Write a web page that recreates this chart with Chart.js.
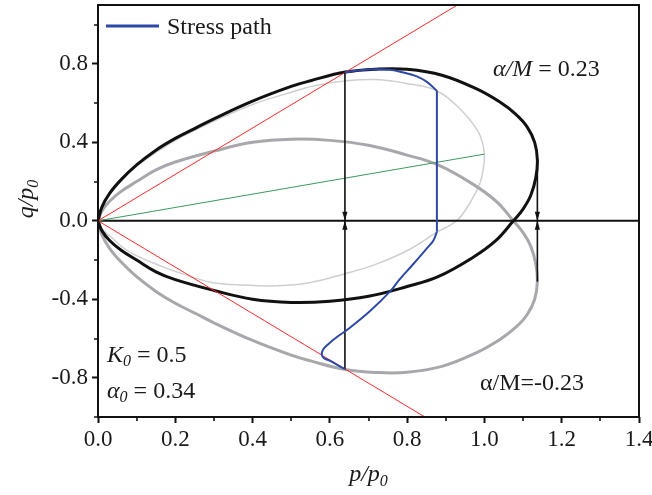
<!DOCTYPE html>
<html>
<head>
<meta charset="utf-8">
<title>Stress path</title>
<script src="https://cdn.jsdelivr.net/npm/chart.js@4.4.1/dist/chart.umd.min.js"></script>
<style>
  html, body { margin: 0; padding: 0; background: #fff; }
  #wrap { width: 652px; height: 495px; }
</style>
</head>
<body>
<div id="wrap"><canvas id="yieldChart" width="652" height="495"></canvas></div>
<script>
// ==== Axis ticks ====
const xTicks = [0, 0.2, 0.4, 0.6, 0.8, 1.0, 1.2, 1.4];
const yTicks = [-0.8, -0.4, 0, 0.4, 0.8];
const xMinorTicks = [0.1, 0.3, 0.5, 0.7, 0.9, 1.1, 1.3];
const yMinorTicks = [-1.0, -0.6, -0.2, 0.2, 0.6, 1.0];

// ==== Yield surfaces (p/p0, q/p0) ====
// current surface, alpha/M = 0.23
const currentP = [0, 0.01, 0.03, 0.06, 0.1, 0.15, 0.2, 0.25, 0.3, 0.4, 0.5, 0.55, 0.64, 0.72, 0.8, 0.89, 0.98, 1.04, 1.08, 1.11, 1.13, 1.137,
                  1.133, 1.12, 1.1, 1.075, 1.03, 0.97, 0.88, 0.8, 0.7, 0.6, 0.5, 0.4, 0.3, 0.2, 0.15, 0.1, 0.06, 0.03, 0.01, 0];
const currentQ = [0, 0.07, 0.14, 0.21, 0.285, 0.36, 0.42, 0.47, 0.52, 0.61, 0.685, 0.714, 0.758, 0.773, 0.772, 0.742, 0.672, 0.605, 0.545, 0.48, 0.4, 0.31,
                  0.22, 0.13, 0.06, 0, -0.1, -0.187, -0.285, -0.335, -0.385, -0.41, -0.416, -0.4, -0.355, -0.3, -0.26, -0.2, -0.15, -0.1, -0.05, 0];

// extension surface, alpha/M = -0.23
const mirrorP = [0, 0.01, 0.03, 0.06, 0.1, 0.15, 0.2, 0.25, 0.3, 0.4, 0.5, 0.55, 0.64, 0.72, 0.8, 0.89, 0.98, 1.04, 1.08, 1.11, 1.13, 1.137,
                 1.133, 1.12, 1.1, 1.075, 1.03, 0.97, 0.88, 0.8, 0.7, 0.6, 0.5, 0.4, 0.3, 0.2, 0.15, 0.1, 0.06, 0.03, 0.01, 0];
const mirrorQ = [0, -0.07, -0.14, -0.21, -0.285, -0.36, -0.42, -0.47, -0.52, -0.61, -0.685, -0.714, -0.758, -0.773, -0.772, -0.742, -0.672, -0.605, -0.545, -0.48, -0.4, -0.31,
                 -0.22, -0.13, -0.06, 0, 0.1, 0.187, 0.285, 0.335, 0.385, 0.41, 0.416, 0.4, 0.355, 0.3, 0.26, 0.2, 0.15, 0.1, 0.05, 0];

// initial surface, alpha0 = 0.34
const initialP = [0, 0.01, 0.03, 0.06, 0.1, 0.2, 0.3, 0.4, 0.5, 0.56, 0.635, 0.72, 0.807, 0.877, 0.937, 0.98, 0.994, 1.0,
                  0.997, 0.989, 0.963, 0.928, 0.877, 0.807, 0.72, 0.635, 0.55, 0.467, 0.38, 0.294, 0.234, 0.165, 0.08, 0.035, 0.01, 0];
const initialQ = [0, 0.068, 0.135, 0.205, 0.28, 0.41, 0.508, 0.593, 0.655, 0.688, 0.712, 0.72, 0.697, 0.663, 0.57, 0.467, 0.405, 0.335,
                  0.265, 0.195, 0.093, 0, -0.058, -0.145, -0.221, -0.272, -0.314, -0.331, -0.328, -0.314, -0.28, -0.232, -0.157, -0.085, -0.04, 0];

// ==== Stress path ====
const pathTopP = [0.639, 0.678, 0.721, 0.756, 0.79, 0.825, 0.851, 0.877];
const pathTopQ = [0.756, 0.768, 0.773, 0.77, 0.756, 0.736, 0.708, 0.663];
const pathDropP = [0.877, 0.877];
const pathDropQ = [0.663, -0.056];
const pathLowP = [0.877, 0.868, 0.851, 0.816, 0.78, 0.756, 0.704, 0.652, 0.62, 0.595, 0.583, 0.579, 0.585, 0.6, 0.62, 0.639];
const pathLowQ = [-0.056, -0.1, -0.14, -0.22, -0.3, -0.36, -0.46, -0.545, -0.59, -0.63, -0.655, -0.68, -0.7, -0.713, -0.735, -0.756];

// ==== Straight lines ====
const cslUpP = [0, 0.93], cslUpQ = [0, 1.1];
const cslLowP = [0, 0.846], cslLowQ = [0, -1.0];
const alphaP = [0, 1.0], alphaQ = [0, 0.34];
const axisP = [0, 1.4], axisQ = [0, 0];

// vertical arrows down/up to the p axis
const arrowP = [0.639, 0.639, 1.137, 1.137];
const arrowFromQ = [0.756, -0.756, 0.31, -0.31];

const TEXT = "#1a1a1a";
const SERIF = "'Liberation Serif', 'Times New Roman', serif";

function pts(xs, ys) {
  return xs.map((x, i) => ({ x: x, y: ys[i] }));
}

function line(data, color, width, tension, extra) {
  return Object.assign({
    data: data,
    showLine: true,
    borderColor: color,
    backgroundColor: color,
    borderWidth: width,
    pointRadius: 0,
    tension: tension,
    fill: false,
  }, extra || {});
}

const datasets = [
  line(pts(pathTopP, pathTopQ), "#2d48a6", 2, 0.4, { label: "Stress path" }),
  line(pts(pathDropP, pathDropQ), "#2d48a6", 2, 0),
  line(pts(pathLowP, pathLowQ), "#2d48a6", 2, 0.4),
];
arrowP.forEach((p, i) => {
  datasets.push(line(pts([p, p], [arrowFromQ[i], 0]), "#111", 1.6, 0, { arrow: true }));
});
datasets.push(
  line(pts(cslUpP, cslUpQ), "#ff2b2b", 1, 0),
  line(pts(cslLowP, cslLowQ), "#ff2b2b", 1, 0),
  line(pts(alphaP, alphaQ), "#3a9a5e", 1, 0),
  line(pts(axisP, axisQ), "#111", 2, 0),
  line(pts(currentP, currentQ), "#111", 3, 0.4),
  line(pts(mirrorP, mirrorQ), "#a8a8ac", 3, 0.4),
  line(pts(initialP, initialQ), "#cfcfcf", 1.5, 0.4)
);

// draw a row of text pieces (font / vertical shift) starting at x
function drawRuns(ctx, x, y, runs, align) {
  let total = 0;
  runs.forEach(r => { ctx.font = r.font; total += ctx.measureText(r.t).width; });
  let cx = align === "center" ? x - total / 2 : x;
  ctx.textBaseline = "alphabetic";
  ctx.textAlign = "left";
  runs.forEach(r => {
    ctx.font = r.font;
    ctx.fillText(r.t, cx, y + (r.dy || 0));
    cx += ctx.measureText(r.t).width;
  });
}

const it = s => "italic " + s + "px " + SERIF;
const rm = s => s + "px " + SERIF;

const decorPlugin = {
  id: "decor",
  afterDatasetsDraw(chart) {
    const ctx = chart.ctx;
    // arrow heads at the end of flagged lines
    chart.data.datasets.forEach((ds, i) => {
      if (!ds.arrow) return;
      const el = chart.getDatasetMeta(i).data;
      const a = el[el.length - 2], b = el[el.length - 1];
      const ang = Math.atan2(b.y - a.y, b.x - a.x);
      const len = 9, hw = 2.6;
      ctx.save();
      ctx.translate(b.x, b.y);
      ctx.rotate(ang);
      ctx.fillStyle = "#111";
      ctx.beginPath();
      ctx.moveTo(0, 0);
      ctx.lineTo(-len, -hw);
      ctx.lineTo(-len, hw);
      ctx.closePath();
      ctx.fill();
      ctx.restore();
    });
  },
  afterDraw(chart) {
    const ctx = chart.ctx;
    const area = chart.chartArea;
    const xs = chart.scales.x, ys = chart.scales.y;
    ctx.save();
    // frame
    ctx.strokeStyle = "#111";
    ctx.lineWidth = 2;
    ctx.strokeRect(area.left, area.top, area.right - area.left, area.bottom - area.top);
    // minor ticks
    ctx.lineWidth = 1.6;
    ctx.beginPath();
    xMinorTicks.forEach(v => {
      const px = Math.round(xs.getPixelForValue(v));
      ctx.moveTo(px, area.bottom);
      ctx.lineTo(px, area.bottom + 4);
    });
    yMinorTicks.forEach(v => {
      const py = Math.round(ys.getPixelForValue(v));
      ctx.moveTo(area.left, py);
      ctx.lineTo(area.left - 4, py);
    });
    ctx.stroke();

    ctx.fillStyle = TEXT;
    // legend
    ctx.strokeStyle = "#2d48a6";
    ctx.lineWidth = 3;
    ctx.beginPath();
    ctx.moveTo(106, 26);
    ctx.lineTo(159, 26);
    ctx.stroke();
    drawRuns(ctx, 167, 34, [{ t: "Stress path", font: rm(24) }]);

    // surface labels
    drawRuns(ctx, 493, 76, [
      { t: "α/M", font: it(24) },
      { t: " = 0.23", font: rm(24) },
    ]);
    drawRuns(ctx, 480, 390, [{ t: "α/M=-0.23", font: rm(24) }]);
    drawRuns(ctx, 107, 362, [
      { t: "K", font: it(24) },
      { t: "0", font: it(16), dy: 4 },
      { t: " = 0.5", font: rm(24) },
    ]);
    drawRuns(ctx, 107, 398, [
      { t: "α", font: it(24) },
      { t: "0", font: it(16), dy: 4 },
      { t: " = 0.34", font: rm(24) },
    ]);

    // axis titles
    drawRuns(ctx, (area.left + area.right) / 2, 481, [
      { t: "p/p", font: it(24) },
      { t: "0", font: it(16), dy: 5 },
    ], "center");
    ctx.translate(33, 199);
    ctx.rotate(-Math.PI / 2);
    drawRuns(ctx, 0, 0, [
      { t: "q/p", font: it(24) },
      { t: "0", font: it(16), dy: 5 },
    ], "center");
    ctx.restore();
  },
};

const tickFont = { family: SERIF, size: 23 };

new Chart(document.getElementById("yieldChart"), {
  type: "scatter",
  data: { datasets: datasets },
  options: {
    responsive: false,
    animation: false,
    layout: { padding: { left: 0, right: 13, top: 5, bottom: 0 } },
    plugins: {
      legend: { display: false },
      tooltip: { enabled: false },
    },
    scales: {
      x: {
        type: "linear",
        min: 0,
        max: 1.4,
        afterBuildTicks: s => { s.ticks = xTicks.map(v => ({ value: v })); },
        afterFit: s => { s.height = 78; s.paddingLeft = 0; s.paddingRight = 0; },
        ticks: {
          callback: v => Number(v).toFixed(1),
          font: tickFont,
          color: TEXT,
          padding: 3,
          maxRotation: 0,
          autoSkip: false,
        },
        grid: { drawOnChartArea: false, tickLength: 6, tickWidth: 2, tickColor: "#111" },
        border: { display: false },
      },
      y: {
        type: "linear",
        min: -1.0,
        max: 1.1,
        afterBuildTicks: s => { s.ticks = yTicks.map(v => ({ value: v })); },
        afterFit: s => { s.width = 98; s.paddingTop = 0; s.paddingBottom = 0; },
        ticks: {
          callback: v => Number(v).toFixed(1),
          font: tickFont,
          color: TEXT,
          padding: 4,
          autoSkip: false,
        },
        grid: { drawOnChartArea: false, tickLength: 6, tickWidth: 2, tickColor: "#111" },
        border: { display: false },
      },
    },
  },
  plugins: [decorPlugin],
});
</script>
</body>
</html>
